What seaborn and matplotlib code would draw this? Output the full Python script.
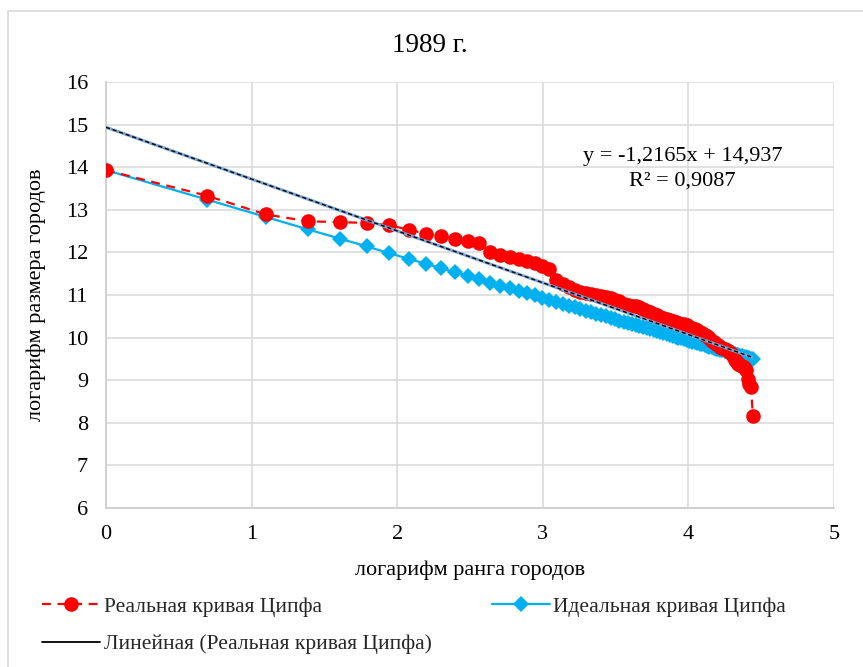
import numpy as np
import pandas as pd
import seaborn as sns
import matplotlib
matplotlib.use("Agg")
import matplotlib.pyplot as plt
from matplotlib.lines import Line2D
from matplotlib.patches import Rectangle

# City ranks (1 = largest city)
ranks = list(range(1, 86))

# ln of city population, real distribution (1989)
real_log_size = [
    13.93, 13.33, 12.89, 12.73, 12.71, 12.69, 12.64, 12.53, 12.44, 12.39,
    12.32, 12.26, 12.21, 12.00, 11.94, 11.90, 11.84, 11.80, 11.74, 11.69,
    11.60, 11.36, 11.26, 11.18, 11.12, 11.08, 11.05, 11.03, 11.01, 10.98,
    10.95, 10.92, 10.88, 10.85, 10.80, 10.77, 10.75, 10.73, 10.71, 10.67,
    10.63, 10.60, 10.56, 10.53, 10.49, 10.46, 10.44, 10.42, 10.40, 10.37,
    10.35, 10.33, 10.31, 10.29, 10.26, 10.23, 10.20, 10.17, 10.13, 10.10,
    10.07, 10.03, 9.98, 9.93, 9.89, 9.85, 9.82, 9.79, 9.76, 9.73,
    9.70, 9.67, 9.63, 9.56, 9.48, 9.42, 9.38, 9.35, 9.33, 9.30,
    9.25, 9.02, 8.92, 8.85, 8.16,
]

# ln of city population under the ideal Zipf rule
ideal_log_size = [
    13.93, 13.24, 12.83, 12.54, 12.32, 12.14, 11.98, 11.85, 11.73, 11.63,
    11.53, 11.45, 11.37, 11.29, 11.22, 11.16, 11.10, 11.04, 10.99, 10.93,
    10.89, 10.84, 10.79, 10.75, 10.71, 10.67, 10.63, 10.60, 10.56, 10.53,
    10.50, 10.46, 10.43, 10.40, 10.37, 10.35, 10.32, 10.29, 10.27, 10.24,
    10.22, 10.19, 10.17, 10.15, 10.12, 10.10, 10.08, 10.06, 10.04, 10.02,
    10.00, 9.98, 9.96, 9.94, 9.92, 9.90, 9.89, 9.87, 9.85, 9.84,
    9.82, 9.80, 9.79, 9.77, 9.76, 9.74, 9.73, 9.71, 9.70, 9.68,
    9.67, 9.65, 9.64, 9.63, 9.61, 9.60, 9.59, 9.57, 9.56, 9.55,
    9.54, 9.52, 9.51, 9.50, 9.49,
]

# Linear trend of the real curve
trend_slope = -1.2165
trend_intercept = 14.937
trend_r2 = 0.9087

x_ticks = [0, 1, 2, 3, 4, 5]
y_ticks = [6, 7, 8, 9, 10, 11, 12, 13, 14, 15, 16]

title_text = "1989 г."
x_label = "логарифм ранга городов"
y_label = "логарифм размера городов"
real_name = "Реальная кривая Ципфа"
ideal_name = "Идеальная кривая Ципфа"
trend_name = "Линейная (Реальная кривая Ципфа)"

df = pd.DataFrame({
    "log_rank": np.log(ranks),
    "real": real_log_size,
    "ideal": ideal_log_size,
})

sns.set_theme(style="whitegrid")
plt.rcParams["font.family"] = ["Liberation Serif", "DejaVu Serif"]

fig = plt.figure(figsize=(8.63, 6.67), dpi=100)
ax = fig.add_axes([0.1228, 0.2384, 0.8436, 0.6387])
ax.set_facecolor("white")

red = "#ff0000"
blue = "#00b0f0"

sns.lineplot(data=df, x="log_rank", y="ideal", ax=ax, color=blue,
             linewidth=1.6, marker="D", markersize=8, markeredgewidth=0,
             sort=False, zorder=3)
sns.lineplot(data=df, x="log_rank", y="real", ax=ax, color=red,
             linewidth=1.6, linestyle=(0, (4, 3)), marker="o", markersize=10.5,
             markeredgewidth=0, sort=False, zorder=4)

# trend line over the data range
x_line = np.array([df["log_rank"].min(), df["log_rank"].max()])
y_line = trend_slope * x_line + trend_intercept
ax.plot(x_line, y_line, color="#7aa6d6", linewidth=2.2, zorder=5,
        solid_capstyle="butt")
ax.plot(x_line, y_line, color="black", linewidth=1.0,
        linestyle=(0, (3, 2)), zorder=6)

eq = f"y = {trend_slope:.4f}x + {trend_intercept:.3f}".replace(".", ",")
r2 = f"R² = {trend_r2:.4f}".replace(".", ",")
ax.text(3.96, 14.26, eq, ha="center", va="center", fontsize=16,
        color="black", zorder=7)
ax.text(3.96, 13.68, r2, ha="center", va="center", fontsize=16,
        color="black", zorder=7)

ax.set_xlim(0, 5)
ax.set_ylim(6, 16)
ax.set_xticks(x_ticks)
ax.set_yticks(y_ticks)
ax.tick_params(axis="both", labelsize=16, length=0, colors="black")
ax.tick_params(axis="y", pad=13)
ax.tick_params(axis="x", pad=12)
ax.grid(True, color="#d9d9d9", linewidth=1.1)
for side in ["top", "right"]:
    ax.spines[side].set_visible(False)
for side in ["left", "bottom"]:
    ax.spines[side].set_color("#cfcfcf")
    ax.spines[side].set_linewidth(1.3)
ax.set_xlabel(x_label, fontsize=16, color="black", labelpad=12)
ax.set_ylabel(y_label, fontsize=16, color="black", labelpad=14)
ax.set_axisbelow(True)

fig.text(0.498, 0.932, title_text, ha="center", va="center", fontsize=19.5,
         color="black")

handles = [
    Line2D([], [], color=red, linestyle=(0, (4, 3)), linewidth=1.6,
           marker="o", markersize=10.5, markeredgewidth=0),
    Line2D([], [], color="black", linewidth=1.3),
    Line2D([], [], color=blue, linewidth=1.6, marker="D", markersize=8,
           markeredgewidth=0),
]
labels = [real_name, trend_name, ideal_name]
fig.legend(handles, labels, loc="upper left", bbox_to_anchor=(0.049, 0.105),
           ncol=2, frameon=False, fontsize=15.5, handlelength=2.7,
           handletextpad=0.15, columnspacing=2.8, labelspacing=0.8,
           borderaxespad=0, borderpad=0)

# chart area border
fig.patches.append(Rectangle((7.5 / 863, -0.05), 2.0, 1.05 - 10.5 / 667,
                             transform=fig.transFigure, fill=False,
                             edgecolor="#d9d9d9", linewidth=1.2,
                             figure=fig))

fig.savefig("out.png", dpi=100, facecolor="white")
